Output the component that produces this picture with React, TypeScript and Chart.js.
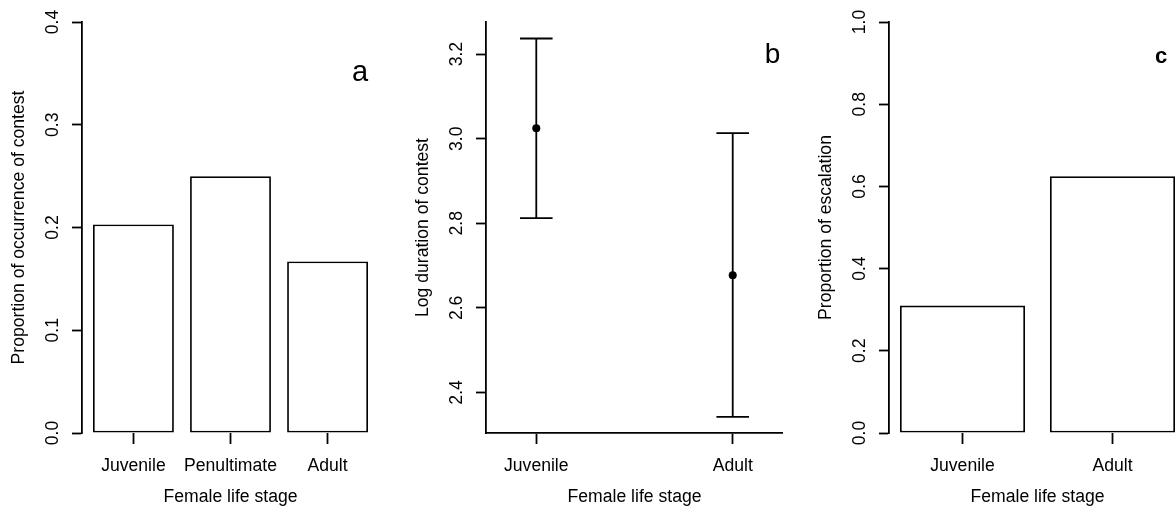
import React, { useEffect, useRef } from "react";
import { Chart, registerables } from "chart.js";

Chart.register(...registerables);

// ---------- data ----------
const stagesA = ["Juvenile", "Penultimate", "Adult"];
const occurrence = [0.203, 0.25, 0.167];
const ticksA = [0, 0.1, 0.2, 0.3, 0.4];

const stagesB = ["Juvenile", "Adult"];
const logDurationMean = [3.025, 2.677];
const logDurationLower = [2.812, 2.342];
const logDurationUpper = [3.237, 3.013];
const ticksB = [2.4, 2.6, 2.8, 3.0, 3.2];

const stagesC = ["Juvenile", "Adult"];
const escalation = [0.31, 0.625];
const ticksC = [0, 0.2, 0.4, 0.6, 0.8, 1.0];

const xTitle = "Female life stage";

// ---------- style ----------
const FAMILY = "'Liberation Sans', Arial, sans-serif";
const INK = "#000000";
const FS = 17.6;
const LW = 1.8;
const CANVAS_W = 379;
const CANVAS_H = 512;
const Y_AXIS_W = 82;
const X_AXIS_H = 79;
const TOP_PAD = 22;

// R barplot midpoints (width 1, space 0.2)
const barMid = (i: number) => 0.7 + 1.2 * i;

function yScale(min: number, max: number, ticks: number[], title: string) {
  return {
    type: "linear",
    min,
    max,
    offset: false,
    afterBuildTicks: (s: any) => {
      s.ticks = ticks.map((v) => ({ value: v }));
    },
    afterFit: (s: any) => {
      s.width = Y_AXIS_W;
    },
    grid: {
      display: true,
      offset: false,
      drawOnChartArea: false,
      drawTicks: true,
      tickLength: 10,
      tickWidth: LW,
      tickColor: INK,
    },
    border: { display: true, color: INK, width: LW },
    ticks: {
      minRotation: 90,
      maxRotation: 90,
      crossAlign: "center",
      padding: 6.7,
      color: INK,
      font: { family: FAMILY, size: FS },
      callback: (v: any) => Number(v).toFixed(1),
    },
    title: {
      display: true,
      text: title,
      color: INK,
      font: { family: FAMILY, size: FS },
      padding: { top: 8.8, bottom: 0 },
    },
  };
}

function xScale(
  min: number,
  max: number,
  positions: number[],
  labels: string[],
  showBorder: boolean
) {
  return {
    type: "linear",
    min,
    max,
    offset: false,
    afterBuildTicks: (s: any) => {
      s.ticks = positions.map((v) => ({ value: v }));
    },
    afterFit: (s: any) => {
      s.height = X_AXIS_H;
    },
    grid: {
      display: true,
      offset: false,
      drawOnChartArea: false,
      drawTicks: true,
      tickLength: 11,
      tickWidth: LW,
      tickColor: INK,
    },
    border: { display: showBorder, color: INK, width: LW },
    ticks: {
      autoSkip: false,
      minRotation: 0,
      maxRotation: 0,
      padding: 12,
      color: INK,
      font: { family: FAMILY, size: FS },
      callback: (_v: any, i: number) => labels[i],
    },
    title: {
      display: true,
      text: xTitle,
      color: INK,
      font: { family: FAMILY, size: FS },
      padding: { top: 0, bottom: 4.2 },
    },
  };
}

const baseOptions = {
  responsive: false,
  animation: false,
  maintainAspectRatio: false,
  layout: { autoPadding: false, padding: { top: TOP_PAD, left: 0, right: 0, bottom: 0 } },
  plugins: { legend: { display: false }, tooltip: { enabled: false }, title: { display: false } },
  events: [],
};

function barConfig(
  labels: string[],
  values: number[],
  xmin: number,
  xmax: number,
  ymax: number,
  yticks: number[],
  yTitle: string
) {
  const mids = labels.map((_, i) => barMid(i));
  return {
    type: "bar",
    data: {
      datasets: [
        {
          data: values.map((v, i) => ({ x: mids[i], y: v })),
          backgroundColor: "#ffffff",
          borderColor: INK,
          borderWidth: LW,
          borderSkipped: false,
          categoryPercentage: 1,
          barPercentage: 1 / 1.2,
        },
      ],
    },
    options: {
      ...baseOptions,
      scales: {
        x: xScale(xmin, xmax, mids, labels, false),
        y: yScale(0, ymax, yticks, yTitle),
      },
    },
  };
}

function configA() {
  return barConfig(stagesA, occurrence, 0.064, 3.736, 0.4, ticksA, "Proportion of occurrence of contest");
}

function configC() {
  return barConfig(stagesC, escalation, 0.112, 2.488, 1.0, ticksC, "Proportion of escalation");
}

function configB() {
  const xs = stagesB.map((_, i) => i + 1);
  const whiskers: any[] = [];
  const caps: any[] = [];
  xs.forEach((x, i) => {
    whiskers.push({ x, y: logDurationLower[i] }, { x, y: logDurationUpper[i] }, { x, y: null });
    caps.push({ x, y: logDurationLower[i] }, { x, y: logDurationUpper[i] });
  });
  return {
    type: "scatter",
    data: {
      datasets: [
        {
          data: whiskers,
          showLine: true,
          spanGaps: false,
          borderColor: INK,
          borderWidth: LW,
          pointRadius: 0,
        },
        {
          data: caps,
          pointStyle: "line",
          pointRadius: 16.3,
          pointBorderColor: INK,
          pointBorderWidth: LW,
          showLine: false,
        },
        {
          data: logDurationMean.map((v, i) => ({ x: xs[i], y: v })),
          pointStyle: "circle",
          pointRadius: 4,
          pointBackgroundColor: INK,
          pointBorderColor: INK,
          pointBorderWidth: 0,
          showLine: false,
        },
      ],
    },
    options: {
      ...baseOptions,
      scales: {
        x: xScale(0.744, 2.256, xs, stagesB, true),
        y: yScale(2.304, 3.276, ticksB, "Log duration of contest"),
      },
    },
  };
}

function Panel({ left, make }: { left: number; make: () => any }) {
  const ref = useRef<HTMLCanvasElement | null>(null);
  useEffect(() => {
    if (!ref.current) return;
    const chart = new Chart(ref.current, make());
    return () => chart.destroy();
  }, []);
  return (
    <canvas
      ref={ref}
      width={CANVAS_W}
      height={CANVAS_H}
      style={{ position: "absolute", left, top: 0, width: CANVAS_W, height: CANVAS_H }}
    />
  );
}

function Letter({ text, cx, baseline, size, bold }: { text: string; cx: number; baseline: number; size: number; bold?: boolean }) {
  return (
    <div
      style={{
        position: "absolute",
        left: cx,
        top: baseline - 0.8465 * size,
        transform: "translateX(-50%)",
        fontFamily: FAMILY,
        fontSize: size,
        lineHeight: 1,
        fontWeight: bold ? 700 : 400,
        color: INK,
        whiteSpace: "nowrap",
      }}
    >
      {text}
    </div>
  );
}

export default function App() {
  return (
    <div
      style={{
        position: "absolute",
        left: 0,
        top: 0,
        width: 1176,
        height: 512,
        overflow: "hidden",
        background: "#ffffff",
      }}
    >
      <Panel left={0} make={configA} />
      <Panel left={404} make={configB} />
      <Panel left={807} make={configC} />
      <Letter text="a" cx={360} baseline={81.7} size={29} />
      <Letter text="b" cx={772.5} baseline={63.3} size={28} />
      <Letter text="c" cx={1161} baseline={63.3} size={22} bold />
    </div>
  );
}
